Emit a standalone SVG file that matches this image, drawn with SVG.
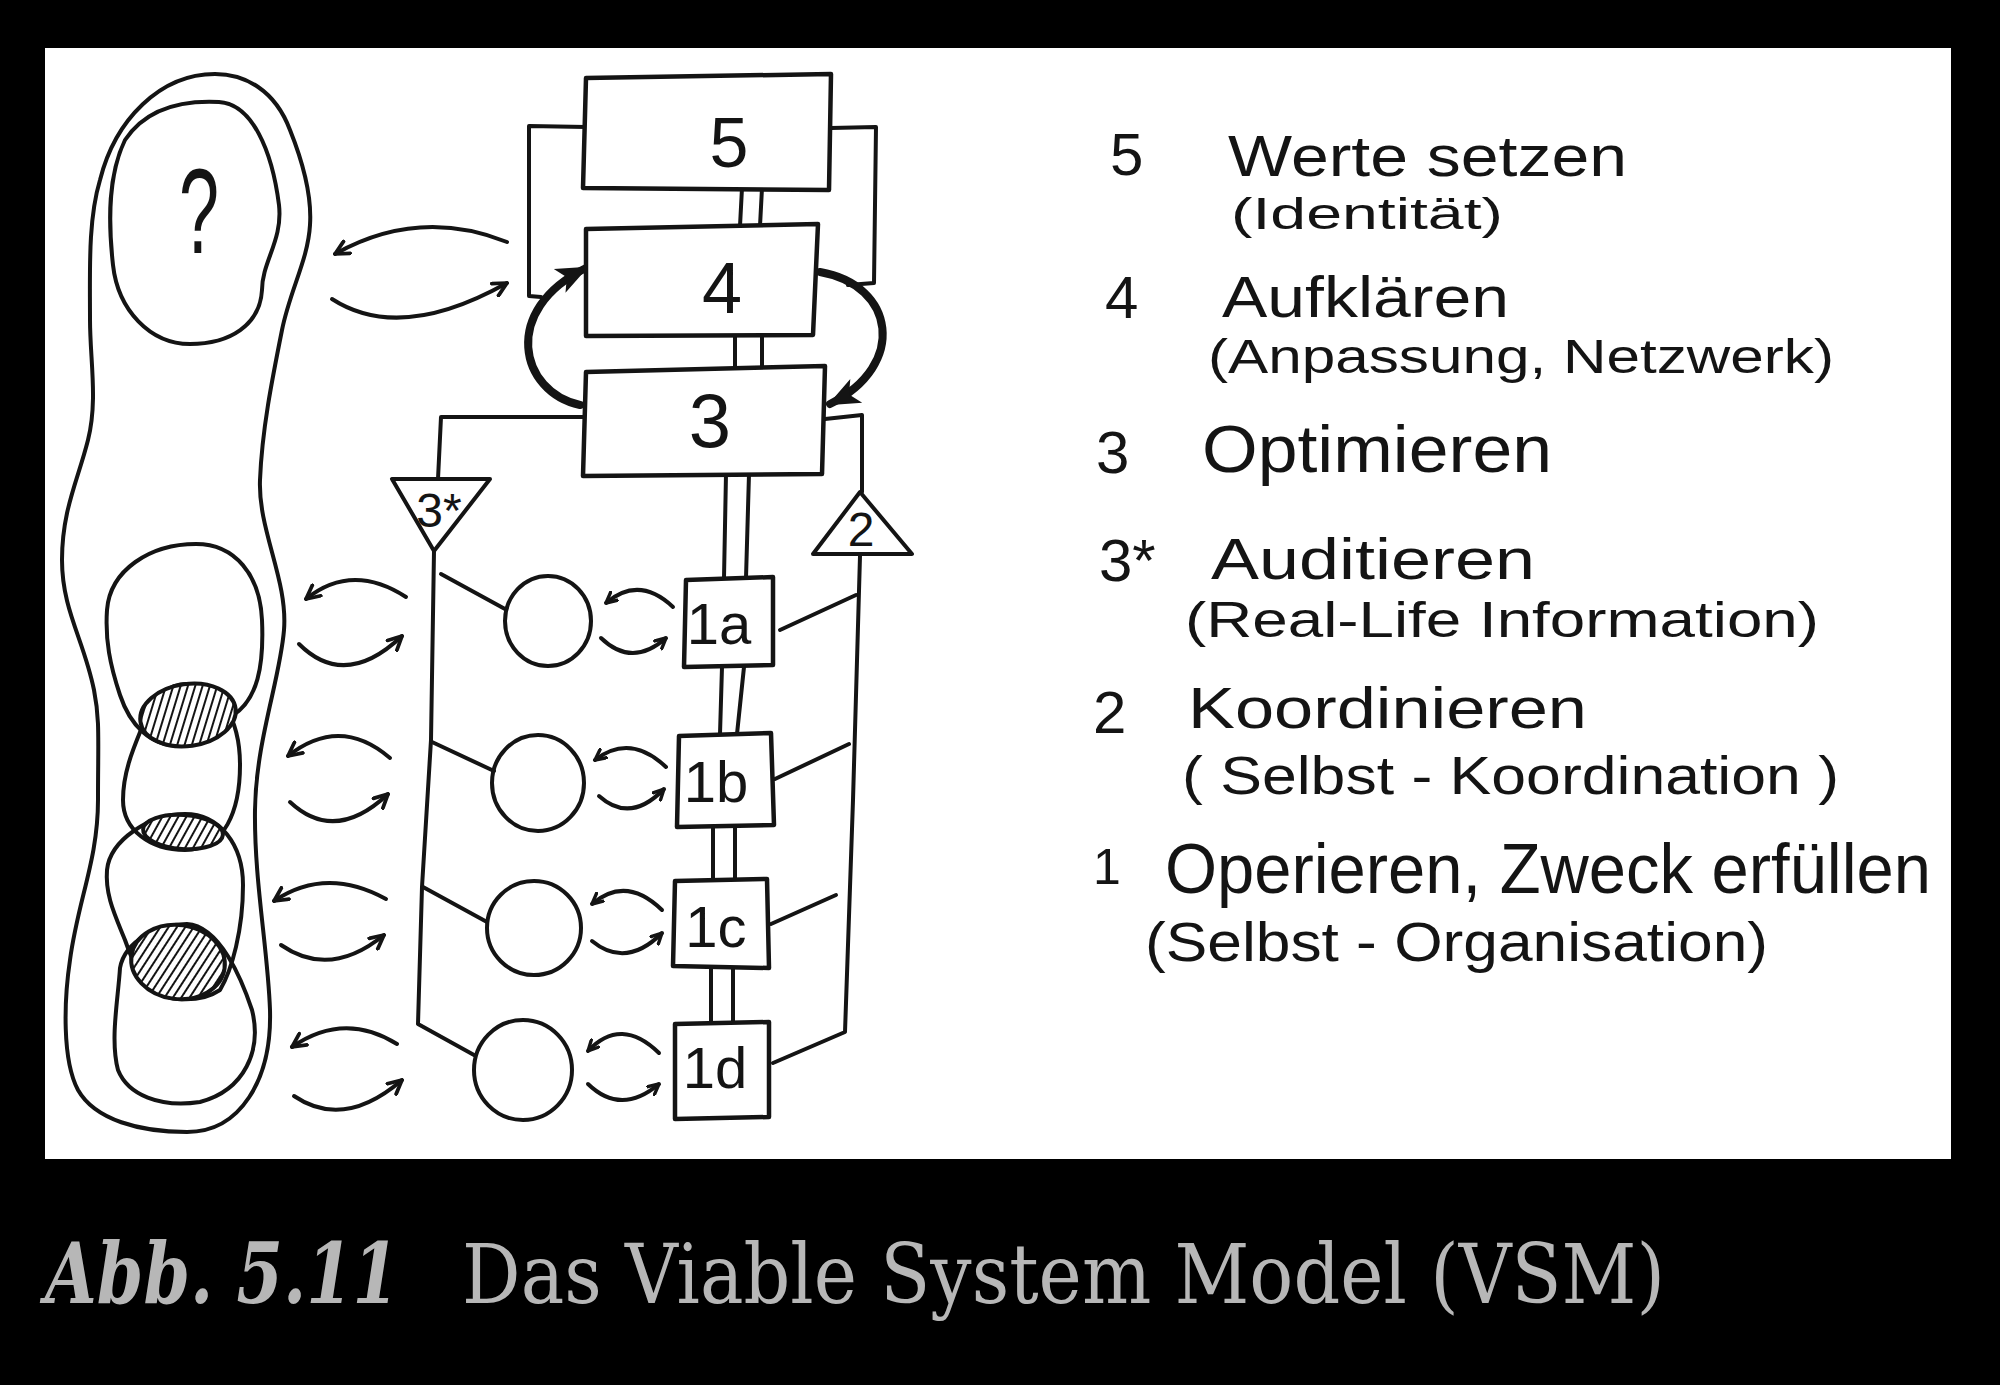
<svg xmlns="http://www.w3.org/2000/svg" width="2000" height="1385" viewBox="0 0 2000 1385">
<style>
.ln{fill:none;stroke:#141414;stroke-width:4;stroke-linecap:round;stroke-linejoin:round}
.bx{fill:#fff;stroke:#141414;stroke-width:4.5;stroke-linejoin:round}
.thk{fill:none;stroke:#141414;stroke-width:8;stroke-linecap:round}
.num{font-family:"Liberation Sans","DejaVu Sans",sans-serif;fill:#141414;text-anchor:middle}
.hw{font-family:"Liberation Sans","DejaVu Sans",sans-serif;fill:#141414}
.cap{font-family:"DejaVu Serif","Liberation Serif",serif;fill:#b7b7b7}
</style>
<defs>
<marker id="ah" viewBox="0 0 10 10" refX="9" refY="5" markerWidth="17" markerHeight="17" markerUnits="userSpaceOnUse" orient="auto">
<path d="M1,1 L9,5 L1,9" fill="none" stroke="#141414" stroke-width="2.2" stroke-linecap="round" stroke-linejoin="round"/>
</marker>
<marker id="ahs" viewBox="0 0 10 10" refX="9" refY="5" markerWidth="13" markerHeight="13" markerUnits="userSpaceOnUse" orient="auto">
<path d="M1,1 L9,5 L1,9" fill="none" stroke="#141414" stroke-width="2.6" stroke-linecap="round" stroke-linejoin="round"/>
</marker>
<marker id="th" viewBox="0 0 12 12" refX="11" refY="6" markerWidth="32" markerHeight="32" markerUnits="userSpaceOnUse" orient="auto">
<path d="M0,1 L12,6 L0,11 L3,6 z" fill="#141414"/>
</marker>
<pattern id="hatch" patternUnits="userSpaceOnUse" width="7" height="7" patternTransform="rotate(25)">
<rect width="7" height="7" fill="#fff"/>
<line x1="2" y1="0" x2="2" y2="7" stroke="#141414" stroke-width="2"/>
</pattern>
</defs>
<rect x="0" y="0" width="2000" height="1385" fill="#000"/>
<rect x="45" y="48" width="1906" height="1111" fill="#fff"/>

<g id="environment">
<path class="ln" d="M215,74 C245,74 275,90 290,130 C302,160 312,195 310,225 C308,260 290,290 282,330 C272,380 262,430 260,480 C258,530 288,580 284,630 C280,680 256,740 255,810 C254,880 268,950 270,1010 C272,1080 240,1132 187,1132 C140,1132 95,1120 78,1090 C62,1060 64,1000 70,960 C78,900 98,860 98,800 C98,740 100,720 94,690 C84,640 62,610 62,560 C62,510 78,480 88,440 C98,400 90,360 90,320 C90,270 88,220 100,180 C115,120 160,74 215,74 Z"/>
</g>
<g id="future">
<path class="ln" d="M219,102 C252,104 272,150 279,205 C283,240 262,262 262,290 C260,325 230,344 190,344 C150,344 118,310 113,265 C108,220 108,175 125,140 C145,110 180,100 219,102 Z"/>
<text class="num" x="199" y="253" font-size="120" transform="translate(199 0) scale(0.6 1) translate(-199 0)">?</text>
</g>
<g id="env-a"><path class="ln" d="M196,544 C235,544 260,575 262,620 C264,665 258,700 232,716 C212,735 200,746 180,746 C150,746 130,725 120,695 C110,665 105,640 107,610 C110,570 150,544 196,544 Z"/></g>
<g id="env-b"><path class="ln" d="M187,684 C220,684 240,720 240,765 C240,810 225,850 185,850 C150,850 123,830 123,800 C123,770 135,745 145,720 C155,695 170,684 187,684 Z"/></g>
<g id="env-c"><path class="ln" d="M185,814 C220,814 243,845 243,885 C243,930 232,970 220,990 C205,1000 190,1000 178,999 C150,997 135,970 125,940 C115,915 105,895 107,870 C110,840 150,814 185,814 Z"/></g>
<g id="env-d"><path class="ln" d="M187,924 C220,926 242,980 252,1010 C262,1050 245,1090 200,1102 C160,1108 128,1095 118,1070 C110,1040 118,1000 120,968 C125,940 160,924 187,924 Z"/></g>
<g id="overlaps">
<ellipse cx="188" cy="715" rx="48" ry="31" transform="rotate(-8 188 715)" fill="url(#hatch)" stroke="#141414" stroke-width="4"/>
<ellipse cx="183" cy="832" rx="40" ry="17" transform="rotate(4 183 832)" fill="url(#hatch)" stroke="#141414" stroke-width="4"/>
<ellipse cx="178" cy="962" rx="47" ry="37" transform="rotate(8 178 962)" fill="url(#hatch)" stroke="#141414" stroke-width="4"/>
</g>

<g id="connectors">
<path class="ln" d="M742,188 L740,226 M762,188 L760,226"/>
<path class="ln" d="M735,335 L735,368 M762,335 L762,368"/>
<path class="ln" d="M726,474 L724,578 M749,474 L746,578"/>
<path class="ln" d="M722,667 L720,734 M744,667 L737,734"/>
<path class="ln" d="M713,827 L713,880 M735,827 L735,880"/>
<path class="ln" d="M711,968 L711,1023 M733,968 L733,1023"/>
<path class="ln" d="M586,127 L529,126 L529,296 L541,297"/>
<path class="ln" d="M831,128 L876,127 L874,283 L848,285"/>
<path class="ln" d="M586,417 L441,417 L438,479"/>
<path class="ln" d="M825,419 L862,415 L862,492"/>
<path class="ln" d="M434,551 L431,740 L422,887 L418,1024 L474,1055"/>
<path class="ln" d="M441,574 L505,609"/>
<path class="ln" d="M432,742 L494,771"/>
<path class="ln" d="M423,887 L487,922"/>
<path class="ln" d="M860,556 L853,800 L845,1032 L773,1063"/>
<path class="ln" d="M780,630 L856,595"/>
<path class="ln" d="M775,779 L849,744"/>
<path class="ln" d="M771,924 L836,895"/>
<path class="thk" d="M580,405 C520,392 500,310 586,268" marker-end="url(#th)"/>
<path class="thk" d="M820,272 C895,285 908,365 830,404" marker-end="url(#th)"/>
<path class="ln" d="M507,242 Q419,207 335,254" marker-end="url(#ah)"/>
<path class="ln" d="M332,299 Q400,343 507,283" marker-end="url(#ah)"/>
<path class="ln" d="M406,597 Q352,562 306,599" marker-end="url(#ah)"/>
<path class="ln" d="M299,644 Q345,690 402,636" marker-end="url(#ah)"/>
<path class="ln" d="M390,758 Q340,715 288,756" marker-end="url(#ah)"/>
<path class="ln" d="M290,802 Q335,844 388,794" marker-end="url(#ah)"/>
<path class="ln" d="M386,899 Q326,866 274,901" marker-end="url(#ah)"/>
<path class="ln" d="M281,945 Q330,979 384,935" marker-end="url(#ah)"/>
<path class="ln" d="M397,1044 Q344,1011 292,1047" marker-end="url(#ah)"/>
<path class="ln" d="M294,1096 Q344,1130 402,1080" marker-end="url(#ah)"/>
<path class="ln" d="M673,607 Q639,575 606,603" marker-end="url(#ahs)"/>
<path class="ln" d="M601,638 Q632,668 666,638" marker-end="url(#ahs)"/>
<path class="ln" d="M666,767 Q630,733 595,760" marker-end="url(#ahs)"/>
<path class="ln" d="M599,796 Q630,824 664,789" marker-end="url(#ahs)"/>
<path class="ln" d="M662,910 Q626,875 592,904" marker-end="url(#ahs)"/>
<path class="ln" d="M592,941 Q626,969 662,933" marker-end="url(#ahs)"/>
<path class="ln" d="M659,1053 Q621,1016 588,1051" marker-end="url(#ahs)"/>
<path class="ln" d="M588,1084 Q621,1116 659,1084" marker-end="url(#ahs)"/>
</g>

<g id="system5"><path class="bx" d="M586,78 L831,74 L829,190 L583,188 Z"/><text class="num" x="729" y="167" font-size="70">5</text></g>
<g id="system4"><path class="bx" d="M586,229 L818,224 L813,335 L586,336 Z"/><text class="num" x="722" y="313" font-size="72">4</text></g>
<g id="system3"><path class="bx" d="M586,372 L825,366 L822,474 L583,476 Z"/><text class="num" x="710" y="447" font-size="76">3</text></g>
<g id="system3star"><path class="ln" d="M392,479 L490,479 L434,551 Z"/><text class="num" x="439" y="527" font-size="48">3*</text></g>
<g id="system2"><path class="ln" d="M860,492 L912,554 L813,554 Z"/><text class="num" x="861" y="546" font-size="48">2</text></g>

<g id="unit1a"><path class="bx" d="M686,580 L773,577 L773,665 L684,667 Z"/><text class="num" x="719" y="644" font-size="58">1a</text></g>
<g id="unit1b"><path class="bx" d="M679,736 L771,733 L774,825 L677,827 Z"/><text class="num" x="716" y="802" font-size="58">1b</text></g>
<g id="unit1c"><path class="bx" d="M675,881 L767,879 L769,968 L673,966 Z"/><text class="num" x="716" y="947" font-size="58">1c</text></g>
<g id="unit1d"><path class="bx" d="M675,1024 L769,1022 L769,1117 L675,1119 Z"/><text class="num" x="715" y="1088" font-size="58">1d</text></g>

<g id="mgmt-a"><ellipse class="ln" cx="548" cy="621" rx="43" ry="45"/></g>
<g id="mgmt-b"><ellipse class="ln" cx="538" cy="783" rx="46" ry="48"/></g>
<g id="mgmt-c"><ellipse class="ln" cx="534" cy="928" rx="47" ry="47"/></g>
<g id="mgmt-d"><ellipse class="ln" cx="523" cy="1070" rx="49" ry="50"/></g>

<g id="legend">
<text class="hw" x="1110" y="175" font-size="60">5</text>
<text class="hw" x="1228" y="176" font-size="58" textLength="399" lengthAdjust="spacingAndGlyphs">Werte  setzen</text>
<text class="hw" x="1231" y="229" font-size="44" textLength="272" lengthAdjust="spacingAndGlyphs">(Identität)</text>
<text class="hw" x="1105" y="318" font-size="60">4</text>
<text class="hw" x="1222" y="317" font-size="58" textLength="287" lengthAdjust="spacingAndGlyphs">Aufklären</text>
<text class="hw" x="1208" y="373" font-size="48" textLength="626" lengthAdjust="spacingAndGlyphs">(Anpassung, Netzwerk)</text>
<text class="hw" x="1096" y="473" font-size="60">3</text>
<text class="hw" x="1202" y="472" font-size="66" textLength="350" lengthAdjust="spacingAndGlyphs">Optimieren</text>
<text class="hw" x="1099" y="581" font-size="60">3*</text>
<text class="hw" x="1211" y="579" font-size="58" textLength="324" lengthAdjust="spacingAndGlyphs">Auditieren</text>
<text class="hw" x="1185" y="637" font-size="50" textLength="634" lengthAdjust="spacingAndGlyphs">(Real-Life Information)</text>
<text class="hw" x="1093" y="733" font-size="60">2</text>
<text class="hw" x="1188" y="728" font-size="58" textLength="399" lengthAdjust="spacingAndGlyphs">Koordinieren</text>
<text class="hw" x="1182" y="794" font-size="54" textLength="657" lengthAdjust="spacingAndGlyphs">( Selbst - Koordination )</text>
<text class="hw" x="1093" y="884" font-size="50">1</text>
<text class="hw" x="1165" y="893" font-size="70" textLength="766" lengthAdjust="spacingAndGlyphs">Operieren, Zweck erfüllen</text>
<text class="hw" x="1145" y="961" font-size="56" textLength="623" lengthAdjust="spacingAndGlyphs">(Selbst - Organisation)</text>
</g>

<g id="caption">
<text class="cap" x="45" y="1303" font-size="84" font-weight="bold" font-style="italic" textLength="354" lengthAdjust="spacingAndGlyphs">Abb. 5.11</text>
<text class="cap" x="462" y="1303" font-size="82" textLength="1203" lengthAdjust="spacingAndGlyphs">Das Viable System Model (VSM)</text>
</g>
</svg>
